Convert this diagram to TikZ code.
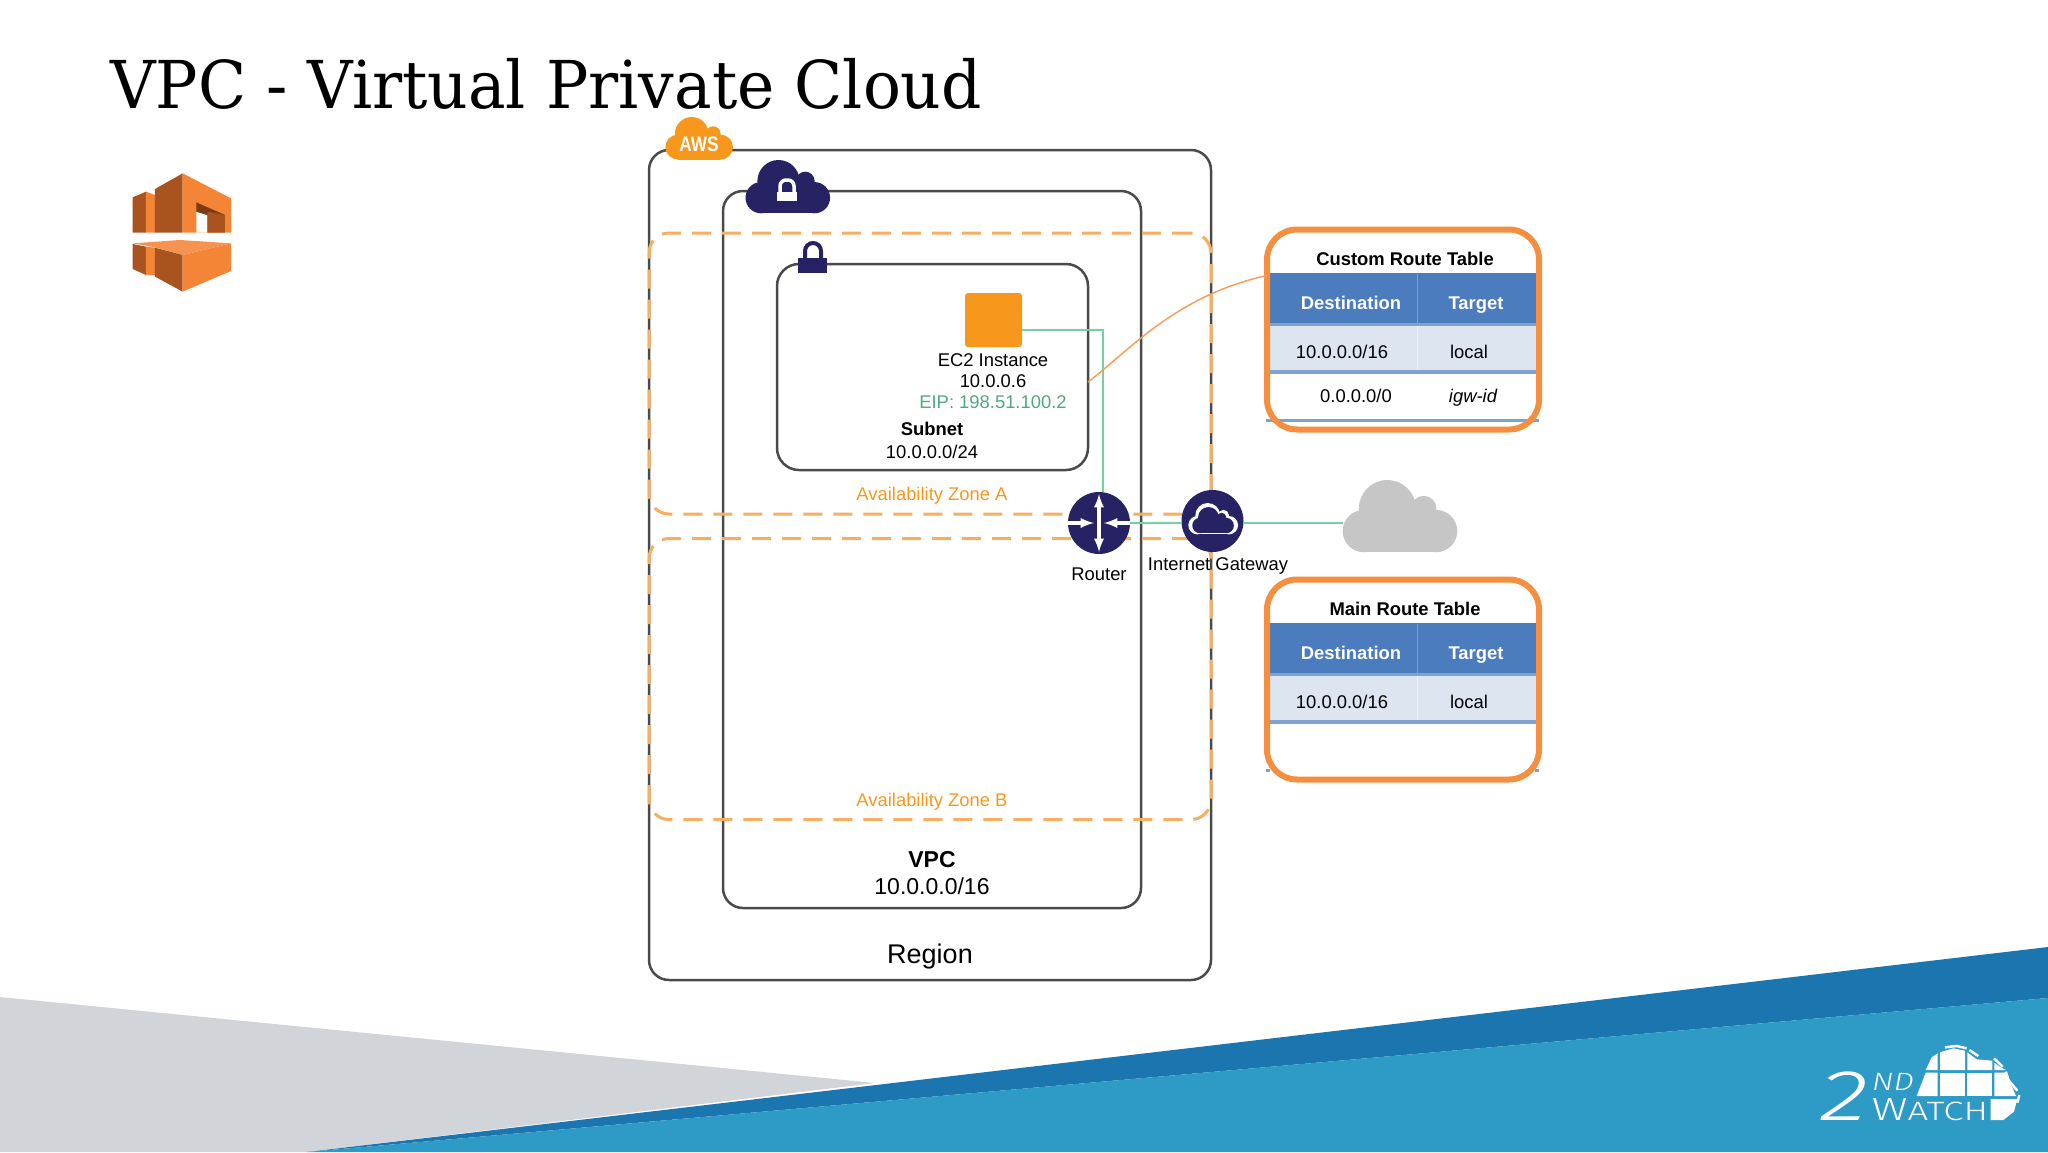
\documentclass[tikz,border=0pt]{standalone}
\usepackage{fontspec}
\setmainfont{Liberation Sans}
\newfontfamily\titlefont{DejaVu Serif}
\newfontfamily\logofont{Fira Sans Light}
\definecolor{navy}{HTML}{272264}
\definecolor{awsorange}{HTML}{F7981D}
\definecolor{zoneorange}{HTML}{F6AE60}
\definecolor{frameorange}{HTML}{F58F3F}
\definecolor{boxline}{HTML}{4A4A4A}
\definecolor{wiregreen}{HTML}{72D2A2}
\definecolor{eipgreen}{HTML}{4FA97C}
\definecolor{headblue}{HTML}{4B7CBD}
\definecolor{rowblue}{HTML}{DCE5F0}
\definecolor{ruleblue}{HTML}{7EA3D1}
\definecolor{slidegray}{HTML}{D1D5D9}
\definecolor{slidedark}{HTML}{1B75AE}
\definecolor{slidelight}{HTML}{2E9AC6}
\definecolor{cloudgray}{HTML}{C6C6C6}
\definecolor{iconlight}{HTML}{F58536}
\definecolor{icondark}{HTML}{A9541F}
\definecolor{icontop}{HTML}{F69350}
\definecolor{iconshade}{HTML}{7A3A12}

% cloud outline, 343 x 215 units from its top left corner
\newcommand{\nube}[4]{%
  \begin{scope}[shift={(#2,#3)},x=#4pt,y=-#4pt]
    \fill[#1] (65,152) circle (63);
    \fill[#1] (135,85) circle (85);
    \fill[#1] (243,85) circle (38);
    \fill[#1] (280,152) circle (63);
    \fill[#1] (65,100) rectangle (280,215);
  \end{scope}}

% one route table: name, top of the frame, title
\newcommand{\routeframe}[3]{%
  \begin{scope}[shift={(0,#2)}]
    \fill[headblue] (1270,46) rectangle (1536,98);
    \fill[rowblue] (1270,98) rectangle (1536,143);
    \fill[ruleblue] (1270,143) rectangle (1536,147);
    \fill[ruleblue] (1270,96) rectangle (1536,99);
    \draw[ruleblue,line width=1pt] (1417,47) -- (1417,96);
    \draw[white!50!rowblue,line width=1pt] (1417,99) -- (1417,143);
    \node[frame] (#1) at (1403,102.5) {};
    \node[boldtxt] (#1title) at (1405,38.5) {#3};
    \node[headtxt] (#1dest) at (1351,82) {Destination};
    \node[headtxt] (#1targ) at (1476,82) {Target};
    \node[txt] (#1net) at (1342,131) {10.0.0.0/16};
    \node[txt] (#1loc) at (1469,131) {local};
  \end{scope}}

\begin{document}
\begin{tikzpicture}[x=1pt,y=-1pt,>=latex,
    box/.style={draw=boxline,line width=2.5pt,rounded corners=20pt,inner sep=0pt,outer sep=0pt},
    zone/.style={draw=zoneorange,line width=3pt,dash pattern=on 19pt off 11pt,rounded corners=20pt,
      minimum width=562pt,minimum height=281pt,inner sep=0pt,outer sep=0pt},
    frame/.style={draw=frameorange,line width=6pt,rounded corners=30pt,minimum width=272pt,
      minimum height=200pt,inner sep=0pt,outer sep=0pt},
    hub/.style={circle,fill=navy,minimum size=62pt,inner sep=0pt,outer sep=0pt},
    wire/.style={draw=wiregreen,line width=2.5pt},
    tip/.style={white,line width=3.5pt},
    txt/.style={anchor=base,inner sep=0pt,font=\fontsize{18.4}{22}\selectfont},
    boldtxt/.style={txt,font=\fontsize{18.4}{22}\selectfont\bfseries},
    headtxt/.style={boldtxt,text=white},
    bigtxt/.style={anchor=base,inner sep=0pt,font=\fontsize{23}{27}\selectfont},
    zonetxt/.style={txt,text=awsorange},
    logotxt/.style={anchor=base west,inner sep=0pt,text=white,transform shape},
  ]
  \useasboundingbox (0,0) rectangle (2048,1152);

  % slide background
  \fill[slidegray] (0,997) -- (875,1083) -- (307,1152) -- (0,1152) -- cycle;
  \fill[slidedark] (307,1152) -- (2048,947) -- (2048,998) -- cycle;
  \fill[slidelight] (307,1152) -- (2048,998) -- (2048,1152) -- cycle;

  \node[anchor=base west,inner sep=0pt,xscale=.955,transform shape,
    font=\titlefont\fontsize{66}{70}\selectfont] (title)
    at (110,108) {VPC - Virtual Private Cloud};

  % service icon
  \begin{scope}[shift={(120,165)},x=0.3333pt,y=-0.3333pt]
    \fill[icondark] (38,97) -- (78,80) -- (78,203) -- (38,203) -- cycle;
    \fill[iconlight] (78,80) -- (105,90) -- (105,203) -- (78,203) -- cycle;
    \fill[icondark] (105,72) -- (188,25) -- (188,203) -- (105,203) -- cycle;
    \fill[iconlight] (188,25) -- (333,100) -- (333,203) -- (188,203) -- cycle;
    \fill[white] (229,140) -- (262,150) -- (262,203) -- (229,203) -- cycle;
    \fill[iconshade] (229,112) -- (315,150) -- (262,150) -- (229,140) -- cycle;
    \fill[icondark] (262,140) -- (315,150) -- (315,203) -- (262,203) -- cycle;
    \fill[icontop] (38,235) -- (180,225) -- (333,235) -- (188,270) -- (105,247) -- cycle;
    \fill[icondark] (38,237) -- (78,245) -- (78,330) -- (38,312) -- cycle;
    \fill[iconlight] (78,245) -- (105,248) -- (105,330) -- (78,330) -- cycle;
    \fill[icondark] (105,248) -- (188,270) -- (188,380) -- (105,335) -- cycle;
    \fill[iconlight] (188,270) -- (333,235) -- (333,318) -- (188,380) -- cycle;
  \end{scope}

  % nested boxes
  \node[box,minimum width=562pt,minimum height=830pt] (region) at (930,565) {};
  \node[box,minimum width=418pt,minimum height=717pt] (vpc) at (932,549.5) {};
  \node[box,minimum width=311pt,minimum height=206pt,rounded corners=22pt] (subnet) at (932.5,367) {};
  \node[zone] (zonea) at (930,373.5) {};
  \node[zone] (zoneb) at (930,679) {};

  % badges
  \nube{awsorange}{665}{117}{0.198}
  \node[anchor=base,inner sep=0pt,text=white,xscale=.82,transform shape,
    font=\fontsize{21}{21}\selectfont\bfseries] (aws) at (699,151) {AWS};
  \nube{navy}{745}{160}{0.248}
  \draw[white,line width=3.5pt,rounded corners=6pt] (780,193) -- (780,180) -- (794,180) -- (794,193);
  \fill[white] (777,192) rectangle (797,201);
  \draw[navy,line width=4pt,rounded corners=8pt] (805,259) -- (805,243) -- (821,243) -- (821,259);
  \fill[navy] (798,258) rectangle (827,273);

  % instance and links
  \node[fill=awsorange,rounded corners=3pt,minimum width=57pt,minimum height=54pt,inner sep=0pt,
    outer sep=0pt] (ec2) at (993.5,320) {};
  \node[hub] (router) at (1099,523) {};
  \node[hub] (igw) at (1212.5,521) {};
  \nube{cloudgray}{1342}{480}{0.336}
  \coordinate (netcloud) at (1343,523);
  \draw[wire] ([yshift=-10pt]ec2.east) -| ([xshift=4pt]router.north);
  \draw[wire] (router.east) -- (igw.west |- router.east);
  \draw[wire] (igw.east |- router.east) -- (netcloud);

  % router arrows
  \draw[tip,<->] ([yshift=-2pt]router.north) -- ([yshift=2pt]router.south);
  \draw[tip,->] (router.west) -- ([xshift=-5pt]router.center);
  \draw[tip,->] (router.east) -- ([xshift=5pt]router.center);

  % gateway cloud
  \nube{white}{1188}{503}{0.146}
  \nube{navy}{1192}{507}{0.122}

  % texts
  \node[txt] (ec2name) at (993,366.5) {EC2 Instance};
  \node[txt] (ec2ip) at (993,387.5) {10.0.0.6};
  \node[txt,text=eipgreen] (ec2eip) at (993,408.5) {EIP: 198.51.100.2};
  \node[boldtxt] (subnetname) at (932,435.5) {Subnet};
  \node[txt] (subnetcidr) at (932,458.5) {10.0.0.0/24};
  \node[zonetxt] (zonealabel) at (932,500) {Availability Zone A};
  \node[zonetxt] (zoneblabel) at (932,806) {Availability Zone B};
  \node[bigtxt,font=\fontsize{23}{27}\selectfont\bfseries] (vpcname) at (932,867) {VPC};
  \node[bigtxt] (vpccidr) at (932,894) {10.0.0.0/16};
  \node[bigtxt,font=\fontsize{27}{30}\selectfont] (regionname) at (930,963) {Region};
  \node[txt] (routername) at (1099,580.5) {Router};
  \node[txt] (igwname) at (1218,570) {Internet Gateway};

  % route tables
  \fill[ruleblue] (1266,419) rectangle (1539,422);
  \routeframe{custom}{227}{Custom Route Table}
  \node[txt] (customany) at (1356,402.5) {0.0.0.0/0};
  \node[txt,font=\fontsize{18.4}{22}\selectfont\itshape] (customigw) at (1473,402.5) {igw-id};
  \fill[ruleblue] (1266,769) rectangle (1270,772);
  \fill[ruleblue] (1535,769) rectangle (1539,772);
  \routeframe{main}{577}{Main Route Table}
  \draw[draw=frameorange!85!white,line width=1.5pt] ([yshift=-15pt]subnet.east)
    .. controls +(42,-32) and +(-91,20) .. ([yshift=54pt]custom.west);

  % company mark
  \begin{scope}[shift={(1760,1020)},x=0.3333pt,y=-0.3333pt]
    \fill[white] (497,150) -- (515,112) -- (533,100) -- (533,150) -- cycle;
    \fill[white] (540,97) -- (580,85) -- (615,92) -- (615,150) -- (540,150) -- cycle;
    \fill[white] (622,97) -- (650,118) -- (697,122) -- (697,150) -- (622,150) -- cycle;
    \fill[white] (703,128) -- (722,142) -- (738,150) -- (703,150) -- cycle;
    \fill[white] (470,228) -- (497,158) -- (533,158) -- (533,228) -- cycle;
    \fill[white] (540,158) rectangle (615,228);
    \fill[white] (622,158) rectangle (697,228);
    \fill[white] (703,158) -- (742,158) -- (752,190) -- (768,228) -- (703,228) -- cycle;
    \fill[white] (692,237) -- (772,237) -- (762,275) -- (730,300) -- (692,300) -- cycle;
    \draw[white,line width=2.5pt] (555,82) -- (590,78) -- (620,85);
    \draw[white,line width=2.5pt] (628,90) -- (655,108);
    \draw[white,line width=2.5pt] (702,115) -- (728,140);
    \draw[white,line width=2.5pt] (737,155) -- (745,180) -- (772,212);
    \draw[white,line width=2.5pt] (778,225) -- (772,248);
    \node[logotxt,xscale=1.4,font=\logofont\itshape\fontsize{72}{72}\selectfont] (logotwo) at (180,300) {2};
    \node[logotxt,xscale=1.3,font=\logofont\itshape\fontsize{25}{25}\selectfont] (logond) at (335,212) {ND};
    \node[logotxt,xscale=1.38,font=\logofont\fontsize{26.5}{27}\selectfont] (logowatch) at (335,300)
      {{\fontsize{32}{32}\selectfont W}ATCH};
  \end{scope}
\end{tikzpicture}
\end{document}
